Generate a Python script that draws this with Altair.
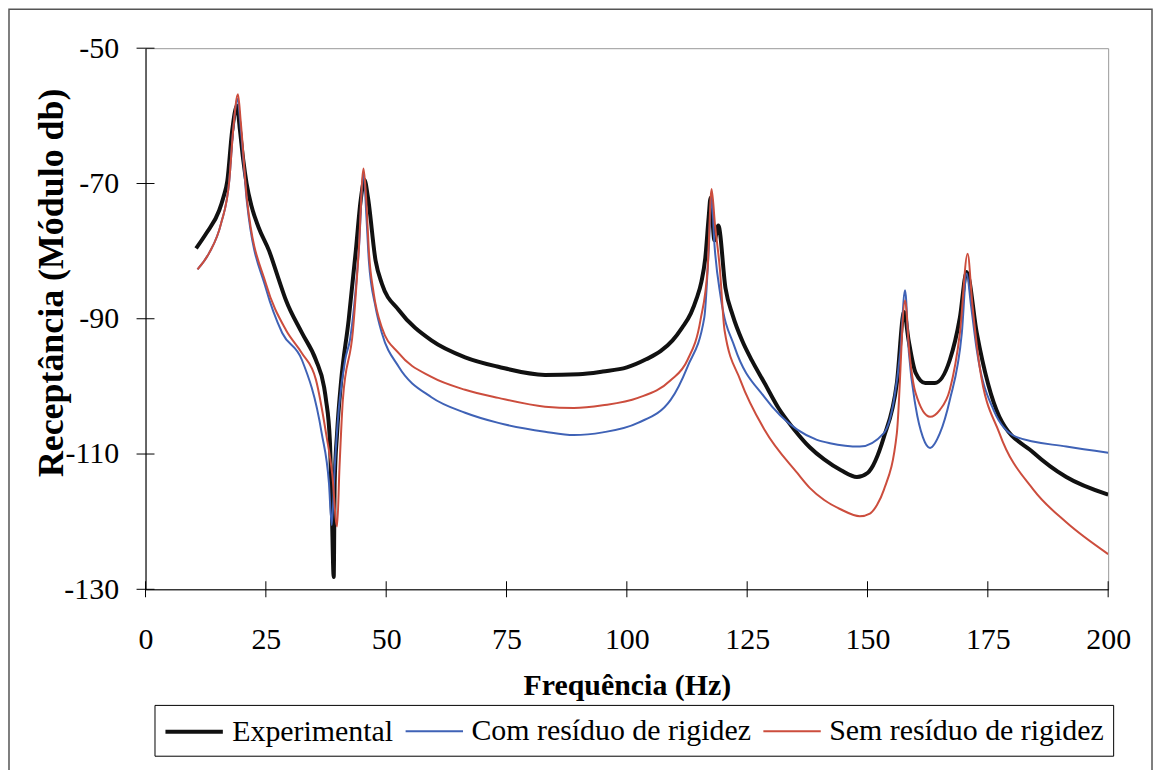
import altair as alt
import pandas as pd

SERIES = ["Experimental", "Com resíduo de rigidez", "Sem resíduo de rigidez"]
COLORS = ["#111111", "#3f62b6", "#cc4d3d"]
WIDTHS = [4, 2, 2]

exp_f = [10.5, 12.6, 15.3, 16.2, 17.0, 18.0, 19.0, 19.6, 20.3, 21.0, 22.0, 23.5, 25.7, 27.5, 29.2, 32.5,
         35.4, 37.1, 37.5, 38.3, 38.7, 39.1, 39.3, 39.8, 40.6, 42.2, 43.7, 44.7, 45.5, 46.2, 47.8, 49.1,
         52.6, 59.4, 66.4, 73.3, 83.0, 90.0, 95.0, 100.0, 104.0, 107.0, 109.5, 111.5, 113.3, 114.5, 115.5,
         116.3, 117.0, 117.4, 118.2, 119.0, 120.5, 122.0, 124.0, 126.0, 128.6, 131.5, 134.8, 138.0, 141.0,
         144.5, 147.8, 150.0, 153.4, 156.1, 157.6, 158.5, 160.0, 162.0, 164.0, 167.1, 169.2, 170.6, 172.7,
         177.4, 184.5, 191.3, 200.0]
exp_v = [-79.6, -77.4, -74.0, -72.0, -69.6, -62.2, -58.5, -62.0, -66.5, -70.0, -73.3, -76.5, -80.0, -83.8,
         -87.3, -92.1, -96.1, -100.1, -102.0, -108.0, -118.0, -128.2, -114.2, -106.9, -99.5, -90.2, -79.9,
         -72.5, -69.5, -72.0, -81.4, -84.8, -88.7, -93.2, -95.7, -97.1, -98.3, -98.2, -97.8, -97.2, -96.0,
         -94.8, -93.2, -91.3, -89.2, -87.0, -84.5, -81.0, -75.0, -72.1, -78.4, -76.2, -85.5, -89.5, -93.3,
         -96.2, -99.5, -103.2, -106.4, -109.0, -110.8, -112.4, -113.4, -112.8, -107.5, -99.5, -89.0, -93.0,
         -98.0, -99.5, -99.5, -96.1, -89.8, -83.1, -92.1, -104.5, -109.8, -113.4, -116.0]

com_f = [10.8, 13.2, 15.7, 17.4, 18.2, 19.1, 19.8, 21.1, 25.0, 28.4, 32.5, 36.6, 38.1, 38.7, 39.3, 40.2,
         41.5, 42.5, 44.3, 45.3, 45.9, 46.4, 47.8, 49.1, 52.6, 59.4, 66.4, 73.3, 83.0, 89.0, 95.0, 102.3,
         109.1, 112.6, 116.1, 117.0, 117.6, 118.2, 119.5, 122.4, 128.6, 135.4, 139.5, 142.2, 148.4, 153.4,
         155.5, 156.8, 157.8, 158.6, 160.0, 161.5, 163.0, 165.0, 167.1, 169.6, 170.6, 171.5, 172.7, 176.2,
         181.0, 191.3, 200.0]
com_v = [-82.7, -80.3, -75.9, -69.6, -62.2, -57.5, -62.0, -73.0, -85.5, -92.1, -96.1, -106.9, -114.2,
         -120.5, -112.0, -103.0, -96.0, -93.0, -80.0, -68.5, -75.0, -81.4, -88.3, -92.1, -97.1, -101.6,
         -103.9, -105.4, -106.7, -107.2, -106.8, -105.4, -102.0, -97.1, -89.8, -80.0, -72.0, -79.0, -86.8,
         -94.2, -101.6, -106.4, -107.9, -108.4, -108.9, -106.9, -102.0, -95.0, -85.8, -95.0, -103.0,
         -107.5, -109.1, -107.0, -102.0, -92.1, -83.3, -88.0, -94.6, -103.5, -107.5, -108.9, -109.8]

sem_f = [10.8, 13.2, 15.7, 17.4, 18.2, 19.2, 19.8, 21.1, 25.0, 29.2, 32.5, 35.4, 37.5, 38.8, 39.8, 40.3,
         41.0, 43.1, 44.3, 45.3, 45.9, 46.4, 47.4, 49.1, 52.6, 59.4, 66.4, 73.3, 83.0, 89.0, 95.0, 102.3,
         109.1, 112.6, 115.3, 116.8, 117.6, 118.3, 119.3, 120.3, 123.6, 128.6, 135.4, 138.0, 141.0, 144.5,
         148.4, 150.5, 152.0, 153.4, 156.1, 157.8, 158.7, 160.0, 163.0, 165.0, 167.1, 169.2, 170.8, 171.8,
         173.3, 177.4, 184.5, 191.3, 200.0]
sem_v = [-82.7, -80.3, -75.9, -69.6, -62.2, -56.8, -61.0, -72.5, -84.8, -91.7, -95.1, -99.0, -106.9,
         -113.0, -120.7, -112.0, -102.0, -91.7, -79.9, -67.8, -73.0, -80.0, -86.2, -91.3, -95.1, -98.6,
         -100.5, -101.7, -103.0, -103.2, -102.8, -101.7, -99.1, -96.1, -90.2, -82.4, -70.8, -76.0, -82.4,
         -91.7, -99.1, -106.4, -112.8, -115.0, -116.8, -118.2, -119.2, -118.8, -117.5, -115.3, -106.9,
         -87.3, -95.0, -101.0, -104.5, -103.5, -100.5, -92.1, -80.4, -88.0, -97.1, -106.9, -115.3, -120.1,
         -124.8]

X_TICKS = [0, 25, 50, 75, 100, 125, 150, 175, 200]
Y_TICKS = [-130, -110, -90, -70, -50]

rows = []
for name, fs, vs in [(SERIES[0], exp_f, exp_v), (SERIES[1], com_f, com_v), (SERIES[2], sem_f, sem_v)]:
    for i, (f, v) in enumerate(zip(fs, vs)):
        rows.append({"series": name, "f": f, "v": v, "i": i})
df = pd.DataFrame(rows)

FONT = "Liberation Serif"

x_enc = alt.X("f:Q", scale=alt.Scale(domain=[0, 200], nice=False, zero=False),
              axis=alt.Axis(values=X_TICKS, title="Frequência (Hz)", grid=False, ticks=False,
                            domainColor="black", domainWidth=1, labelFont=FONT, labelFontSize=30,
                            labelColor="black", labelPadding=35, titleFont=FONT, titleFontSize=30,
                            titleFontWeight="bold", titleColor="black", titleBaseline="alphabetic",
                            titleY=106, labelFlush=False, labelExpr="toString(datum.value)"))
y_enc = alt.Y("v:Q", scale=alt.Scale(domain=[-130, -50], nice=False, zero=False),
              axis=alt.Axis(values=Y_TICKS, title="Receptância (Módulo db)", grid=False, ticks=False,
                            domainColor="black", domainWidth=1, labelFont=FONT, labelFontSize=30,
                            labelColor="black", labelPadding=27, titleFont=FONT, titleFontSize=36,
                            titleFontWeight="bold", titleColor="black", titleAngle=-90,
                            titleBaseline="middle", titleAlign="center", titleX=-94, titleY=235,
                            labelFlush=False, labelExpr="toString(datum.value)"))

leg = alt.Legend(title=None, orient="none", legendX=9, legendY=659, direction="horizontal",
                 strokeColor="black", fillColor="white", padding=9, labelFont=FONT,
                 labelFontSize=30, labelColor="black", symbolType="M-1,0H2.6", symbolSize=1024,
                 labelOffset=33, columnPadding=8, labelLimit=400)

lines = alt.Chart(df).mark_line(clip=True, strokeJoin="round", interpolate="monotone").encode(
    x=x_enc, y=y_enc,
    color=alt.Color("series:N", scale=alt.Scale(domain=SERIES, range=COLORS), legend=leg, sort=SERIES),
    strokeWidth=alt.StrokeWidth("series:N", scale=alt.Scale(type="ordinal", domain=SERIES, range=WIDTHS),
                                legend=leg, sort=SERIES),
    order="i:Q",
)

xt = alt.Chart(pd.DataFrame({"f": X_TICKS, "v": [-130] * len(X_TICKS)})).mark_tick(
    orient="vertical", size=16, thickness=1, color="black", clip=False, opacity=1).encode(x=x_enc, y=y_enc)
yt = alt.Chart(pd.DataFrame({"f": [0] * len(Y_TICKS), "v": Y_TICKS})).mark_tick(
    orient="horizontal", size=18, thickness=1, color="black", clip=False, opacity=1).encode(x=x_enc, y=y_enc)

frame = alt.Chart(pd.DataFrame({"a": [0]})).mark_rect(
    filled=False, stroke="#555555", strokeWidth=1.5, clip=False).encode(
    x=alt.value(-137), x2=alt.value(1010), y=alt.value(-39), y2=alt.value(740))

chart = alt.layer(frame, lines, xt, yt).properties(
    width=966, height=543,
    padding={"left": 138, "top": 39, "right": 46, "bottom": 180},
    autosize=alt.AutoSizeParams(type="none"),
    background="white",
).configure_view(stroke="#999999", strokeWidth=1).resolve_scale(color="shared")

chart.save("out.html", embed_options={"renderer": "svg", "actions": False})
